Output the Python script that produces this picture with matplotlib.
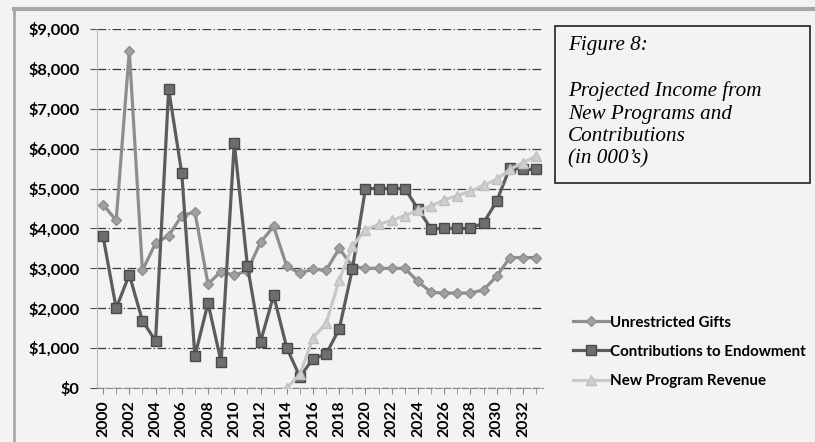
import matplotlib.pyplot as plt
from matplotlib.lines import Line2D
from matplotlib.patches import Rectangle
from matplotlib.ticker import FuncFormatter, MultipleLocator

# hodnoty (v tisicich dolaru)
years = list(range(2000, 2034))

unrestricted_gifts = [
    4600, 4200, 8450, 2950, 3630, 3820, 4320, 4410, 2610, 2920,
    2830, 2940, 3650, 4050, 3050, 2880, 2980, 2950, 3500, 3050,
    3000, 3000, 3000, 3000, 2670, 2400, 2380, 2380, 2380, 2460,
    2800, 3270, 3270, 3270,
]

endowment = [
    3800, 2000, 2840, 1690, 1180, 7490, 5380, 800, 2130, 650,
    6150, 3070, 1160, 2320, 1010, 280, 730, 850, 1480, 2980,
    5000, 5000, 5000, 5000, 4490, 3990, 4000, 4000, 4000, 4140,
    4680, 5520, 5480, 5480,
]

program_years = list(range(2014, 2034))
new_program = [
    0, 340, 1260, 1620, 2710, 3550, 3970, 4100, 4200, 4320,
    4450, 4560, 4720, 4820, 4930, 5080, 5230, 5480, 5650, 5810,
]

series_labels = ["Unrestricted Gifts", "Contributions to Endowment", "New Program Revenue"]
title_lines = ["Figure 8:", "", "Projected Income from", "New Programs and",
               "Contributions", "(in 000\u2019s)"]

W, H = 815, 442
bg = "#f3f3f3"

fig = plt.figure(figsize=(W / 100, H / 100), dpi=100, facecolor=bg)
ax = fig.add_axes([96.5 / W, 1 - 388 / H, (542.6 - 96.5) / W, (388 - 29) / H])
ax.set_facecolor(bg)

ax.plot(years, unrestricted_gifts, color="#8e8e8e", lw=2.3, marker="D", ms=5.5,
        mfc="#a0a0a0", mec="#8e8e8e", label=series_labels[0], zorder=3)
ax.plot(years, endowment, color="#5c5c5c", lw=2.3, marker="s", ms=7.5,
        mfc="#6e6e6e", mec="#4a4a4a", label=series_labels[1], zorder=4)
ax.plot(program_years, new_program, color="#c9c9c9", lw=2.3, marker="^", ms=7,
        mfc="#cfcfcf", mec="#c0c0c0", label=series_labels[2], zorder=5)

ax.set_xlim(1999.5, 2033.5)
ax.set_ylim(0, 9000)
ax.yaxis.set_major_locator(MultipleLocator(1000))
ax.yaxis.set_major_formatter(FuncFormatter(lambda v, p: f"${v:,.0f}"))
ax.set_xticks(years[::2])
ax.set_xticks(years, minor=True)
ax.tick_params(axis="x", which="both", rotation=90, length=4, color="#888888",
               labelsize=11.3, pad=5)
ax.tick_params(axis="y", length=5, color="#555555", labelsize=11.8, pad=7)
for lab in ax.get_xticklabels() + ax.get_yticklabels():
    lab.set_fontfamily("Lato")
    lab.set_fontweight("bold")

ax.grid(axis="y", color="#3a3a3a", lw=0.9, ls=(0, (7, 2, 1, 2)), zorder=1)
for s in ["top", "right"]:
    ax.spines[s].set_visible(False)
ax.spines["left"].set_color("#bbbbbb")
ax.spines["bottom"].set_color("#888888")
ax.spines["bottom"].set_linestyle((0, (6, 2)))

# ramecek s titulkem
fig.patches.append(Rectangle((555 / W, 1 - 183 / H), (810 - 555) / W, (183 - 26) / H,
                             transform=fig.transFigure, fill=False, ec="#222222", lw=1.2))
fig.text(568 / W, 1 - 36 / H, "\n".join(title_lines), ha="left", va="top",
         family="Liberation Serif", style="italic", fontsize=15.2, linespacing=1.25)

# sedy okraj nahore a vlevo
fig.add_artist(Line2D([14 / W, 1], [1 - 8.5 / H] * 2, transform=fig.transFigure,
                      color="#a8a8a8", lw=3))
fig.add_artist(Line2D([14 / W] * 2, [0, 1 - 8.5 / H], transform=fig.transFigure,
                      color="#a8a8a8", lw=2))

leg = fig.legend(loc="upper left", bbox_to_anchor=(559 / W, 1 - 302 / H), frameon=False,
                 handlelength=2.4, handletextpad=0.1, labelspacing=1.0,
                 prop={"family": "Lato", "weight": "bold", "size": 10.9})

fig.savefig("out.png", dpi=100, facecolor=bg)
